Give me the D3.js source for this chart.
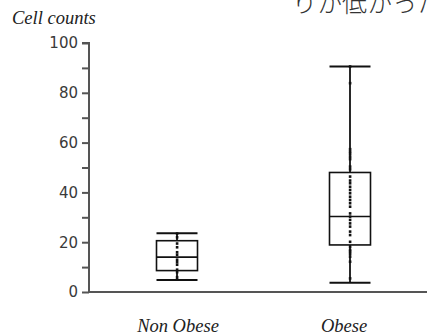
<!DOCTYPE html>
<html><head><meta charset="utf-8">
<script src="https://cdn.jsdelivr.net/npm/d3@7"></script>
<style>html,body{margin:0;padding:0;background:#fff;overflow:hidden}</style>
</head><body>
<script>
const categories = ["Non Obese", "Obese"];
const whiskerLow = [4.8, 3.7];
const q1 = [8.6, 18.9];
const median = [14.0, 30.3];
const q3 = [20.6, 48.0];
const whiskerHigh = [23.6, 90.6];
const pointsNonObese = [23.5, 22, 19.5, 18, 16, 15, 13, 12, 11, 9, 8, 6, 5];
const pointsObese = [90.6, 83.9, 57.4, 56.4, 55.5, 54.4, 53.4, 50.4, 49.3, 46.4, 44.8, 43.7, 42.3, 41, 39.7, 38.3, 37, 35.7, 34.3, 31.6, 30.3, 29, 27.6, 26.3, 24.3, 22.9, 20.2, 18.2, 16.9, 16.2, 15.3, 14.2, 12.2, 5.5];
const yTicks = [0, 20, 40, 60, 80, 100];
const yMinorTicks = [10, 30, 50, 70, 90];
const yTitle = "Cell counts";
const topText = "りか低かった";

const W = 427, H = 336;
const svg = d3.select("body").append("svg").attr("width", W).attr("height", H);

const y = d3.scaleLinear().domain([0, 100]).range([292, 43]);
const x = d3.scalePoint().domain(categories).range([177, 350]);
const boxW = 41;

// top clipped Japanese text
svg.append("text").attr("x", 292).attr("y", 12)
  .attr("font-family", "Noto Sans CJK JP").attr("font-size", 25).attr("font-weight", 300)
  .attr("fill", "#333").text(topText);

// y title
svg.append("text").attr("x", 12).attr("y", 24)
  .attr("font-family", "Liberation Serif").attr("font-style", "italic").attr("font-size", 18.5)
  .attr("fill", "#222").text(yTitle);

// y axis
const axisColor = "#555";
const yAxis = d3.axisLeft(y).tickValues(yTicks).tickSize(7).tickPadding(4);
const gy = svg.append("g").attr("transform", "translate(89,0)").call(yAxis);
gy.select(".domain").attr("stroke", axisColor).attr("stroke-width", 2).attr("d", `M-7,${y(100)}H0V${y(0)}`);
gy.selectAll(".tick line").attr("stroke", axisColor).attr("stroke-width", 2);
gy.selectAll(".tick text").attr("font-family", "DejaVu Sans").attr("font-size", 15).attr("fill", "#3a3a3a");
const yMinor = d3.axisLeft(y).tickValues(yMinorTicks).tickSize(7).tickFormat("");
const gym = svg.append("g").attr("transform", "translate(89,0)").call(yMinor);
gym.select(".domain").remove();
gym.selectAll(".tick line").attr("stroke", axisColor).attr("stroke-width", 2);

// x axis line
svg.append("line").attr("x1", 88).attr("x2", W).attr("y1", y(0)).attr("y2", y(0))
  .attr("stroke", axisColor).attr("stroke-width", 2);

// category labels
svg.selectAll(".cat").data(categories).enter().append("text")
  .attr("x", (d, i) => i === 0 ? x(d) + 1 : x(d) - 6).attr("y", 332)
  .attr("text-anchor", "middle")
  .attr("font-family", "Liberation Serif").attr("font-style", "italic").attr("font-size", 18.5)
  .attr("fill", "#222").text(d => d);

// boxes
categories.forEach((c, i) => {
  const cx = x(c);
  const g = svg.append("g").attr("stroke", "#111").attr("fill", "none").attr("stroke-width", 1.6);
  g.append("line").attr("x1", cx).attr("x2", cx).attr("y1", y(whiskerLow[i])).attr("y2", y(whiskerHigh[i])).attr("stroke-width", 1.8);
  g.append("line").attr("x1", cx - boxW / 2).attr("x2", cx + boxW / 2).attr("y1", y(whiskerHigh[i])).attr("y2", y(whiskerHigh[i])).attr("stroke-width", 2);
  g.append("line").attr("x1", cx - boxW / 2).attr("x2", cx + boxW / 2).attr("y1", y(whiskerLow[i])).attr("y2", y(whiskerLow[i])).attr("stroke-width", 2);
  g.append("rect").attr("x", cx - boxW / 2).attr("width", boxW).attr("y", y(q3[i])).attr("height", y(q1[i]) - y(q3[i])).attr("fill", "#fff");
  g.append("line").attr("x1", cx).attr("x2", cx).attr("y1", y(q3[i])).attr("y2", y(q1[i])).attr("stroke-width", 0);
  g.append("line").attr("x1", cx - boxW / 2).attr("x2", cx + boxW / 2).attr("y1", y(median[i])).attr("y2", y(median[i]));
});

// points
[pointsNonObese, pointsObese].forEach((pts, i) => {
  const cx = x(categories[i]);
  svg.selectAll(null).data(pts).enter().append("rect")
    .attr("x", cx - 1.2).attr("y", d => y(d) - 1.2).attr("width", 2.6).attr("height", 2.6)
    .attr("fill", "#111");
});
</script>
</body></html>
